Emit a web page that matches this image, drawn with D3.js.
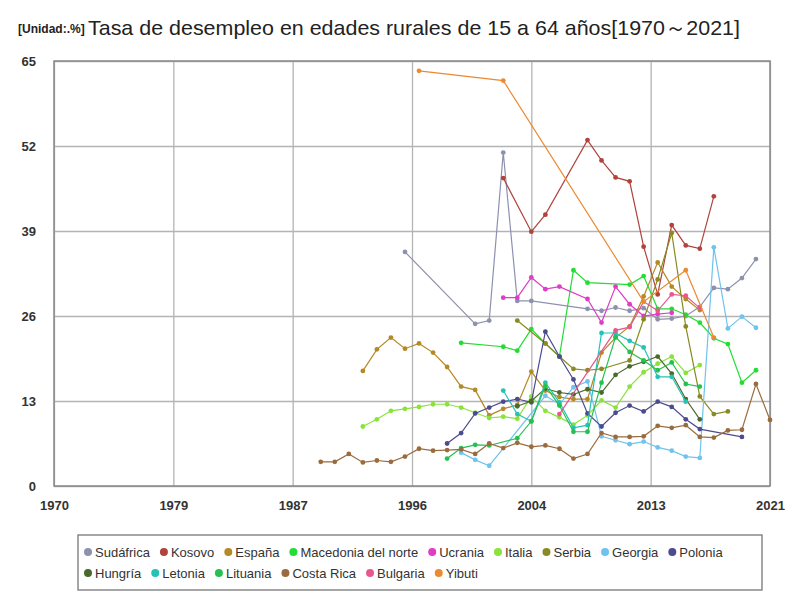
<!DOCTYPE html>
<html>
<head>
<meta charset="utf-8">
<script src="https://cdn.jsdelivr.net/npm/d3@7"></script>
<style>
  body { margin: 0; background: #fff; }
  svg { font-family: "Liberation Sans", Arial, sans-serif; }
</style>
</head>
<body>
<div id="chart"></div>
<script>
// data, [year, value]
var sudafrica = [[1995,35.8],[2000,24.8],[2001,25.3],[2002,51.0],[2003,28.3],[2004,28.3],[2008,27.1],[2009,26.8],[2010,27.3],[2011,26.8],[2012,27.2],[2013,25.5],[2014,25.6],[2015,26.0],[2016,27.4],[2017,30.3],[2018,30.1],[2019,31.8],[2020,34.7]];
var kosovo = [[2002,47.1],[2004,38.9],[2005,41.5],[2008,52.9],[2009,49.8],[2010,47.2],[2011,46.6],[2012,36.6],[2013,29.3],[2014,39.9],[2015,36.8],[2016,36.3],[2017,44.3]];
var espana = [[1992,17.6],[1993,20.9],[1994,22.7],[1995,21.0],[1996,21.8],[1997,20.4],[1998,18.2],[1999,15.2],[2000,14.7],[2001,10.8],[2002,11.8],[2003,12.4],[2004,17.5],[2005,14.6],[2006,13.6],[2007,13.3],[2008,13.3],[2009,20.4],[2010,22.7],[2011,24.4],[2012,29.0],[2013,34.2],[2014,30.5],[2015,28.6],[2016,26.9]];
var macedonia = [[1999,21.9],[2002,21.3],[2003,20.7],[2004,24.0],[2005,21.8],[2006,19.8],[2007,33.0],[2008,31.1],[2011,30.8],[2012,32.1],[2013,27.1],[2014,27.1],[2015,26.2],[2016,25.0],[2017,22.6],[2018,21.7],[2019,15.8],[2020,17.7]];
var ucrania = [[2002,28.8],[2003,28.8],[2004,31.9],[2005,30.1],[2006,30.5],[2008,28.6],[2009,25.0],[2010,30.5],[2011,27.8],[2012,26.0],[2013,26.3],[2014,26.5]];
var italia = [[1992,9.1],[1993,10.2],[1994,11.5],[1995,11.8],[1996,12.1],[1997,12.5],[1998,12.5],[1999,12.0],[2000,11.2],[2001,10.4],[2002,10.6],[2003,10.3],[2004,13.7],[2005,11.5],[2006,10.5],[2007,9.4],[2008,10.8],[2009,13.1],[2010,12.0],[2011,15.2],[2012,17.4],[2013,18.7],[2014,19.8],[2015,17.3],[2016,18.5]];
var serbia = [[2003,25.3],[2005,21.8],[2006,19.8],[2007,17.9],[2008,17.7],[2009,17.9],[2011,19.2],[2012,25.5],[2013,31.6],[2014,38.7],[2015,24.4],[2016,13.7],[2017,11.0],[2018,11.4]];
var georgia = [[1999,5.1],[2000,4.0],[2001,3.1],[2005,13.8],[2006,12.5],[2007,15.1],[2008,16.0],[2009,7.6],[2010,7.0],[2011,6.4],[2012,6.8],[2013,5.9],[2014,5.4],[2015,4.5],[2016,4.3],[2017,36.5],[2018,24.1],[2019,25.9],[2020,24.2]];
var polonia = [[1998,6.5],[1999,8.1],[2000,11.1],[2001,12.0],[2002,12.9],[2003,13.3],[2004,12.8],[2005,23.6],[2006,19.8],[2007,16.3],[2008,11.1],[2009,9.1],[2010,11.2],[2011,12.3],[2012,11.4],[2013,12.9],[2014,12.1],[2015,10.2],[2016,8.7],[2019,7.5]];
var hungria = [[2003,12.2],[2004,13.0],[2005,14.9],[2006,14.3],[2007,14.0],[2008,14.8],[2009,14.3],[2010,17.0],[2011,18.3],[2012,19.0],[2013,19.8],[2014,17.2],[2015,13.3],[2016,10.2]];
var letonia = [[2002,14.6],[2003,11.0],[2004,9.9],[2005,15.8],[2006,12.8],[2007,8.9],[2008,9.3],[2009,23.4],[2010,23.4],[2011,22.2],[2012,21.2],[2013,16.7],[2014,16.7],[2015,12.9]];
var lituania = [[1998,4.2],[1999,5.8],[2000,6.3],[2001,6.2],[2003,7.3],[2004,9.9],[2005,15.3],[2006,12.3],[2007,8.3],[2008,8.3],[2009,15.8],[2010,22.8],[2011,20.5],[2012,19.2],[2013,17.7],[2014,18.9],[2015,15.6],[2016,15.2]];
var costaRica = [[1989,3.7],[1990,3.7],[1991,4.9],[1992,3.6],[1993,3.9],[1994,3.7],[1995,4.5],[1996,5.7],[1997,5.4],[1998,5.5],[1999,5.6],[2000,4.9],[2001,6.5],[2002,5.8],[2003,6.6],[2004,6.0],[2005,6.2],[2006,5.7],[2007,4.2],[2008,4.9],[2009,8.1],[2010,7.5],[2011,7.5],[2012,7.6],[2013,9.2],[2014,8.9],[2015,9.3],[2016,7.5],[2017,7.4],[2018,8.5],[2019,8.6],[2020,15.6],[2021,10.1]];
var bulgaria = [[2006,11.0],[2010,23.8],[2011,24.3],[2012,28.2],[2013,26.8],[2014,29.3],[2015,29.1],[2016,27.2]];
var yibuti = [[1996,63.5],[2002,62.0],[2012,28.2],[2015,33.0],[2017,22.7]];

var names = ["Sudáfrica","Kosovo","España","Macedonia del norte","Ucrania","Italia","Serbia","Georgia","Polonia","Hungría","Letonia","Lituania","Costa Rica","Bulgaria","Yibuti"];
var colors = ["#8d91b0","#b0433c","#b38a26","#22dd33","#e03cc6","#8be23c","#8a8a24","#6fc3ee","#4b4b8e","#4b6a2a","#24c3b5","#25c150","#9a6b3c","#e8588c","#ec8a32"];
var seriesData = [sudafrica,kosovo,espana,macedonia,ucrania,italia,serbia,georgia,polonia,hungria,letonia,lituania,costaRica,bulgaria,yibuti];

var xTicks = d3.range(7).map(function(i) { return 1970 + i * 8.5; });
var yTicks = [0, 13, 26, 39, 52, 65];

var width = 800, height = 600;
var plot = {left: 54, right: 770, top: 61, bottom: 486};

var svg = d3.select("#chart").append("svg")
    .attr("width", width)
    .attr("height", height);

var x = d3.scaleLinear().domain([1970, 2021]).range([plot.left, plot.right]);
var y = d3.scaleLinear().domain([0, 65]).range([plot.bottom, plot.top]);

// grid + labels
var xAxis = d3.axisBottom(x).tickValues(xTicks)
    .tickFormat(function(d) { return Math.round(d); })
    .tickSize(-(plot.bottom - plot.top)).tickPadding(15);
var yAxis = d3.axisLeft(y).tickValues(yTicks)
    .tickSize(-(plot.right - plot.left)).tickPadding(18);

var gx = svg.append("g").attr("transform", "translate(0," + plot.bottom + ")").call(xAxis);
var gy = svg.append("g").attr("transform", "translate(" + plot.left + ",0)").call(yAxis);

[gx, gy].forEach(function(g) {
  g.select(".domain").remove();
  g.selectAll(".tick line").attr("stroke", "#b4b4b4").attr("stroke-width", 1.3);
  g.selectAll(".tick text")
    .attr("fill", "#333")
    .style("font-size", "13px")
    .style("font-weight", "bold");
});

svg.append("rect")
    .attr("x", plot.left).attr("y", plot.top)
    .attr("width", plot.right - plot.left).attr("height", plot.bottom - plot.top)
    .attr("fill", "none")
    .attr("stroke", "#888")
    .attr("stroke-width", 1.5);

// lines and points
var line = d3.line()
    .x(function(d) { return x(d[0]); })
    .y(function(d) { return y(d[1]); });

seriesData.forEach(function(data, i) {
  var g = svg.append("g");
  g.append("path")
      .datum(data)
      .attr("d", line)
      .attr("fill", "none")
      .attr("stroke", colors[i])
      .attr("stroke-width", 1.2);
  g.selectAll("circle")
      .data(data)
    .enter().append("circle")
      .attr("cx", function(d) { return x(d[0]); })
      .attr("cy", function(d) { return y(d[1]); })
      .attr("r", 2.4)
      .attr("fill", colors[i]);
});

// title
svg.append("text")
    .attr("x", 18).attr("y", 33)
    .attr("fill", "#222")
    .style("font-size", "12px")
    .style("font-weight", "bold")
    .text("[Unidad:.%]");
svg.append("text")
    .attr("x", 88).attr("y", 35)
    .attr("fill", "#222")
    .attr("textLength", 652)
    .attr("lengthAdjust", "spacingAndGlyphs")
    .style("font-size", "21px")
    .text("Tasa de desempleo en edades rurales de 15 a 64 años[1970～2021]");

// legend
var legend = svg.append("g");
legend.append("rect")
    .attr("x", 78).attr("y", 535)
    .attr("width", 684).attr("height", 55)
    .attr("fill", "#fff")
    .attr("stroke", "#777")
    .attr("stroke-width", 1.3);

var lx = 88, ly = 552;
names.forEach(function(name, i) {
  var item = legend.append("g");
  item.append("circle").attr("r", 4).attr("fill", colors[i]);
  var t = item.append("text")
      .attr("x", 7).attr("dy", "0.35em")
      .attr("fill", "#333")
      .style("font-size", "13px")
      .text(name);
  var w = 7 + t.node().getComputedTextLength() + 14;
  if (lx + w > 752) { lx = 88; ly += 21; }
  item.attr("transform", "translate(" + lx + "," + ly + ")");
  lx += w;
});
</script>
</body>
</html>
